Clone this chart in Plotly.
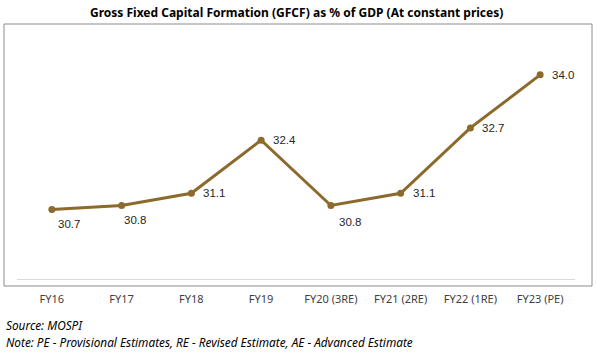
import plotly.graph_objects as go

categories = ["FY16", "FY17", "FY18", "FY19", "FY20 (3RE)", "FY21 (2RE)", "FY22 (1RE)", "FY23 (PE)"]
gfcf_pct = [30.7, 30.8, 31.1, 32.4, 30.8, 31.1, 32.7, 34.0]
label_text = ["30.7", "30.8", "31.1", "32.4", "30.8", "31.1", "32.7", "34.0"]

# label offsets (style only)
label_xshift = [4, 0, 10, 10, 6, 10, 10, 10]
label_yshift = [-6, -6, 0, 0, -8, 0, 0, 0]
label_yanchor = ["top", "top", "middle", "middle", "top", "middle", "middle", "middle"]

LINE = "#8C6A2C"
L, R, T, B = 17, 22, 34, 82
W, H = 597, 361
pw = W - L - R
ph = H - T - B

fig = go.Figure()
fig.add_trace(go.Scatter(
    x=categories, y=gfcf_pct, mode="lines+markers",
    line=dict(color=LINE, width=3),
    marker=dict(color=LINE, size=7),
    hoverinfo="skip", showlegend=False,
))

annotations = []
for c, v, t, xs, ys, ya in zip(categories, gfcf_pct, label_text, label_xshift, label_yshift, label_yanchor):
    annotations.append(dict(x=c, y=v, text=t, showarrow=False, xanchor="left", yanchor=ya,
                            xshift=xs, yshift=ys,
                            font=dict(family="Liberation Sans, Arial", size=11.5, color="#262626")))

annotations.append(dict(x=0.5, y=(H - 12 - B) / ph, xref="paper", yref="paper",
                        text="<b>Gross Fixed Capital Formation (GFCF) as % of GDP (At constant prices)</b>",
                        showarrow=False, xanchor="center", yanchor="middle",
                        font=dict(family="Noto Sans, Open Sans", size=12, color="#000000")))
annotations.append(dict(x=(4 - L) / pw, y=(H - 325 - B) / ph, xref="paper", yref="paper",
                        text="<i>Source: MOSPI</i>", showarrow=False, xanchor="left", yanchor="middle",
                        font=dict(family="Noto Sans, Open Sans", size=11.8, color="#000000")))
annotations.append(dict(x=(4 - L) / pw, y=(H - 342 - B) / ph, xref="paper", yref="paper",
                        text="<i>Note: PE - Provisional Estimates, RE - Revised Estimate, AE - Advanced Estimate</i>",
                        showarrow=False, xanchor="left", yanchor="middle",
                        font=dict(family="Noto Sans, Open Sans", size=11.8, color="#000000")))

fig.update_layout(
    width=W, height=H,
    margin=dict(l=L, r=R, t=T, b=B, pad=0),
    paper_bgcolor="white", plot_bgcolor="white",
    annotations=annotations,
    shapes=[dict(type="rect", xref="paper", yref="paper",
                 x0=(4 - L) / pw, x1=(592 - L) / pw,
                 y0=(279 - 286) / ph, y1=(279 - 24) / ph,
                 line=dict(color="#8c8c8c", width=1), fillcolor="rgba(0,0,0,0)", layer="below")],
    xaxis=dict(type="category", showgrid=False, zeroline=False, showline=True,
               linecolor="#d9d9d9", linewidth=1, ticks="", ticklabelstandoff=10,
               tickfont=dict(family="Noto Sans, Open Sans", size=11, color="#404040"),
               range=[-0.5, 7.5], fixedrange=True),
    yaxis=dict(range=[29, 35], visible=False, fixedrange=True),
)

fig.write_html("out.html", config={"displayModeBar": False},
               post_script="document.body.style.margin='0';document.body.style.padding='0';")
